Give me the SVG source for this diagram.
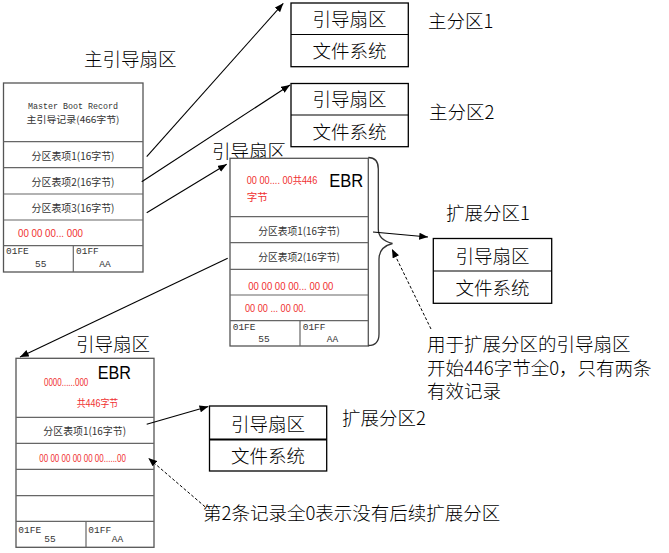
<svg xmlns="http://www.w3.org/2000/svg" width="669" height="553" viewBox="0 0 669 553">
<defs>
<marker id="ah" viewBox="0 0 10 8" refX="10" refY="4" markerWidth="9" markerHeight="7" markerUnits="userSpaceOnUse" orient="auto">
<path d="M0,0 L10,4 L0,8 z" fill="#000"/>
</marker>
<style>
.tbl{fill:#fff;stroke:#555;stroke-width:1.3}
.div{stroke:#666;stroke-width:1.2}
.box{fill:#fff;stroke:#000;stroke-width:1.3}
.sm{font-family:"Noto Sans CJK SC","Liberation Sans",sans-serif;font-size:10.5px;fill:#333;dominant-baseline:central}
.mono{font-family:"Liberation Mono","Noto Sans CJK SC",monospace;font-size:9.5px;fill:#333;dominant-baseline:central}
.red{font-family:"Liberation Sans","Noto Sans CJK SC",sans-serif;font-size:10.5px;fill:#f03030;dominant-baseline:central}
.lbl{font-family:"Noto Sans CJK SC","Liberation Sans",sans-serif;font-size:18.5px;fill:#000;dominant-baseline:central;font-weight:300}
.ebr{font-family:"Liberation Sans","Noto Sans",sans-serif;font-size:18px;fill:#000;dominant-baseline:central}
.con{stroke:#000;stroke-width:1.1;fill:none}
.dash{stroke:#000;stroke-width:1;fill:none;stroke-dasharray:3,2}
</style>
</defs>

<g id="mbr">
<text class="lbl" x="84" y="58">主引导扇区</text>
<rect class="tbl" x="3.5" y="83" width="139.5" height="189"/>
<line class="div" x1="3.5" y1="141.7" x2="143" y2="141.7"/>
<line class="div" x1="3.5" y1="167.7" x2="143" y2="167.7"/>
<line class="div" x1="3.5" y1="194" x2="143" y2="194"/>
<line class="div" x1="3.5" y1="220" x2="143" y2="220"/>
<line class="div" x1="3.5" y1="245.7" x2="143" y2="245.7"/>
<line class="div" x1="73.3" y1="245.7" x2="73.3" y2="272"/>
<text class="mono" x="73" y="106.5" text-anchor="middle" textLength="90" lengthAdjust="spacingAndGlyphs" style="font-size:8.5px">Master Boot Record</text>
<text class="sm" x="73" y="119" text-anchor="middle" textLength="93" lengthAdjust="spacingAndGlyphs" style="font-size:9.5px">主引导记录(466字节)</text>
<text class="sm" x="73" y="155" text-anchor="middle" textLength="83" lengthAdjust="spacingAndGlyphs">分区表项1(16字节)</text>
<text class="sm" x="73" y="181.5" text-anchor="middle" textLength="83" lengthAdjust="spacingAndGlyphs">分区表项2(16字节)</text>
<text class="sm" x="73" y="207.3" text-anchor="middle" textLength="83" lengthAdjust="spacingAndGlyphs">分区表项3(16字节)</text>
<text class="red" x="18" y="233.3" textLength="65" lengthAdjust="spacingAndGlyphs">00 00 00... 000</text>
<text class="mono" x="6" y="251.7">01FE</text>
<text class="mono" x="35" y="264">55</text>
<text class="mono" x="76" y="251.7">01FF</text>
<text class="mono" x="99.3" y="264">AA</text>
</g>

<g id="ebr1">
<text class="lbl" x="212" y="150">引导扇区</text>
<rect class="tbl" x="230" y="158.3" width="138.3" height="187.7"/>
<line class="div" x1="230" y1="216.7" x2="368.3" y2="216.7"/>
<line class="div" x1="230" y1="242.7" x2="368.3" y2="242.7"/>
<line class="div" x1="230" y1="269.3" x2="368.3" y2="269.3"/>
<line class="div" x1="230" y1="295" x2="368.3" y2="295"/>
<line class="div" x1="230" y1="320.7" x2="368.3" y2="320.7"/>
<line class="div" x1="300" y1="320.7" x2="300" y2="346"/>
<text class="red" x="246.7" y="180" textLength="70.6" lengthAdjust="spacingAndGlyphs">00 00.... 00共446</text>
<text class="red" x="246.7" y="196.7">字节</text>
<text class="ebr" x="329.3" y="180.5" textLength="34" lengthAdjust="spacingAndGlyphs">EBR</text>
<text class="sm" x="299" y="230" text-anchor="middle" textLength="81.7" lengthAdjust="spacingAndGlyphs">分区表项1(16字节)</text>
<text class="sm" x="299" y="256.7" text-anchor="middle" textLength="81.7" lengthAdjust="spacingAndGlyphs">分区表项2(16字节)</text>
<text class="red" x="248.3" y="285.7" textLength="85" lengthAdjust="spacingAndGlyphs">00 00 00 00... 00 00</text>
<text class="red" x="245" y="308.3" textLength="61" lengthAdjust="spacingAndGlyphs">00 00 ... 00 00.</text>
<text class="mono" x="232.7" y="327.7">01FE</text>
<text class="mono" x="258.3" y="339.3">55</text>
<text class="mono" x="302.7" y="327.7">01FF</text>
<text class="mono" x="326.7" y="339.3">AA</text>
</g>

<g id="ebr2">
<text class="lbl" x="76" y="343.3">引导扇区</text>
<rect class="tbl" x="16" y="358.3" width="138" height="189"/>
<line class="div" x1="16" y1="417.3" x2="154" y2="417.3"/>
<line class="div" x1="16" y1="443.3" x2="154" y2="443.3"/>
<line class="div" x1="16" y1="469.3" x2="154" y2="469.3"/>
<line class="div" x1="16" y1="495.7" x2="154" y2="495.7"/>
<line class="div" x1="16" y1="521.3" x2="154" y2="521.3"/>
<line class="div" x1="86" y1="521.3" x2="86" y2="547.3"/>
<text class="ebr" x="97.7" y="373.3" textLength="33.3" lengthAdjust="spacingAndGlyphs">EBR</text>
<text class="red" x="44" y="381.7" textLength="44.3" lengthAdjust="spacingAndGlyphs">0000......000</text>
<text class="red" x="76.7" y="402.7" textLength="41.6" lengthAdjust="spacingAndGlyphs">共446字节</text>
<text class="sm" x="84.7" y="430" text-anchor="middle" textLength="82.7" lengthAdjust="spacingAndGlyphs">分区表项1(16字节)</text>
<text class="red" x="39.3" y="458.3" textLength="86.7" lengthAdjust="spacingAndGlyphs">00 00 00 00 00 00......00</text>
<text class="mono" x="18.3" y="530">01FE</text>
<text class="mono" x="44.3" y="539.3">55</text>
<text class="mono" x="88.3" y="530">01FF</text>
<text class="mono" x="111.7" y="539.3">AA</text>
</g>

<g id="p1">
<rect class="box" x="291" y="3" width="117.3" height="63.7"/>
<line class="con" x1="291" y1="34.5" x2="408.3" y2="34.5"/>
<text class="lbl" x="349.6" y="18.3" text-anchor="middle">引导扇区</text>
<text class="lbl" x="349.6" y="50" text-anchor="middle">文件系统</text>
<text class="lbl" x="428" y="20">主分区1</text>
</g>

<g id="p2">
<rect class="box" x="291" y="83.5" width="117.3" height="63.2"/>
<line class="con" x1="291" y1="115" x2="408.3" y2="115"/>
<text class="lbl" x="349.6" y="98.3" text-anchor="middle">引导扇区</text>
<text class="lbl" x="349.6" y="131" text-anchor="middle">文件系统</text>
<text class="lbl" x="429" y="111">主分区2</text>
</g>

<g id="ext1">
<rect class="box" x="433.3" y="238.5" width="118.4" height="64.8"/>
<line class="con" x1="433.3" y1="271" x2="551.7" y2="271"/>
<text class="lbl" x="492.5" y="254.7" text-anchor="middle">引导扇区</text>
<text class="lbl" x="492.5" y="287.2" text-anchor="middle">文件系统</text>
<text class="lbl" x="446" y="212">扩展分区1</text>
</g>

<g id="ext2">
<rect class="box" x="209.5" y="406" width="117.2" height="65"/>
<line x1="209.5" y1="439.5" x2="326.7" y2="439.5" stroke="#000" stroke-width="2.2"/>
<text class="lbl" x="268" y="422.5" text-anchor="middle">引导扇区</text>
<text class="lbl" x="268" y="455.3" text-anchor="middle">文件系统</text>
<text class="lbl" x="342" y="416.5">扩展分区2</text>
</g>

<g id="notes">
<text class="lbl" x="427" y="343">用于扩展分区的引导扇区</text>
<text class="lbl" x="427" y="366.5">开始446字节全0，只有两条</text>
<text class="lbl" x="427" y="390">有效记录</text>
<text class="lbl" x="203" y="512">第2条记录全0表示没有后续扩展分区</text>
</g>

<g id="connectors">
<path d="M368.3,157.5 Q378.3,157.5 378.3,169 L378.3,229 Q378.3,240 392.5,243.5 Q379,247 379,259 L379,334 Q379,345.5 368.3,345.5" fill="none" stroke="#333" stroke-width="1.3"/>
<line class="con" x1="146.7" y1="156.7" x2="283.3" y2="3.3" marker-end="url(#ah)"/>
<line class="con" x1="141.7" y1="181.7" x2="290" y2="85" marker-end="url(#ah)"/>
<line class="con" x1="146.7" y1="212.7" x2="226.7" y2="164.3" marker-end="url(#ah)"/>
<line class="con" x1="227.7" y1="258.3" x2="20" y2="357" marker-end="url(#ah)"/>
<line class="con" x1="373" y1="232" x2="428" y2="237" marker-end="url(#ah)"/>
<line class="con" x1="146.7" y1="424.3" x2="208.3" y2="406.5" marker-end="url(#ah)"/>
<line class="dash" x1="431" y1="329" x2="392" y2="249" marker-end="url(#ah)"/>
<line class="dash" x1="205" y1="506.7" x2="148.3" y2="458" marker-end="url(#ah)"/>
</g>
</svg>
